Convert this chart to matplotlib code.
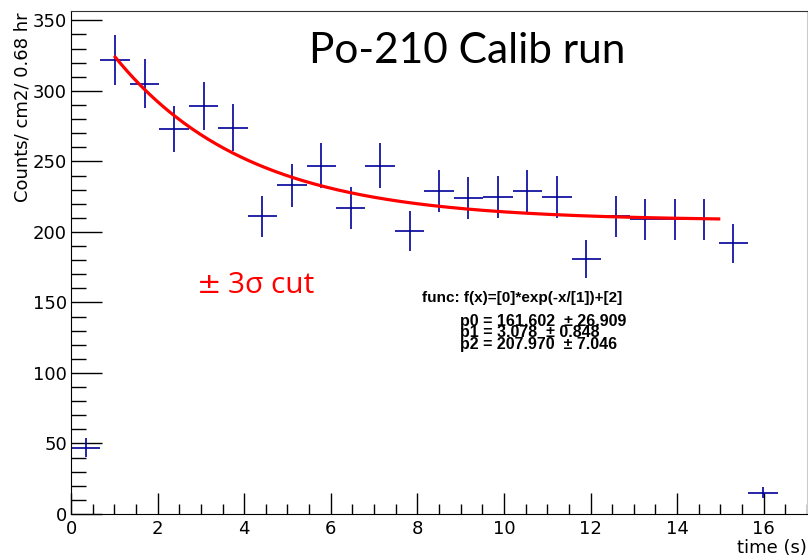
import numpy as np
import matplotlib
matplotlib.use('Agg')
import matplotlib.pyplot as plt
from matplotlib.ticker import MultipleLocator

# bin centres (0.68 hr bins) and counts
bin_centers = [0.34, 1.02, 1.70, 2.38, 3.06, 3.74, 4.42, 5.10, 5.78, 6.46,
               7.14, 7.82, 8.50, 9.18, 9.86, 10.54, 11.22, 11.90, 12.58,
               13.26, 13.94, 14.62, 15.30, 15.98]
counts = [47, 322, 305, 273, 289, 274, 211, 233, 247, 217,
          247, 201, 229, 224, 225, 229, 225, 181, 211,
          209, 209, 209, 192, 15]
bin_half = 0.34

# fit result
p0, p1, p2 = 161.602, 3.078, 207.970
fit_lo, fit_hi = 1.02, 14.96
fit_text = ["p0 = 161.602  \u00b1 26.909",
            "p1 = 3.078  \u00b1 0.848",
            "p2 = 207.970  \u00b1 7.046"]

fig = plt.figure(figsize=(8.08, 5.59), dpi=100)
ax = fig.add_axes([0.0879, 0.0805, 0.9109, 0.9007])

y = np.array(counts, dtype=float)
ax.errorbar(bin_centers, y, xerr=bin_half, yerr=np.sqrt(y), fmt='none',
            ecolor='#000099', elinewidth=1.2, capsize=0)

xf = np.linspace(fit_lo, fit_hi, 300)
ax.plot(xf, p0 * np.exp(-xf / p1) + p2, color='red', lw=2.3)

ax.set_xlim(0, 17)
ax.set_ylim(0, 357)
ax.xaxis.set_major_locator(MultipleLocator(2))
ax.xaxis.set_minor_locator(MultipleLocator(0.5))
ax.yaxis.set_major_locator(MultipleLocator(50))
ax.yaxis.set_minor_locator(MultipleLocator(10))
ax.tick_params(axis='both', which='both', direction='in', top=False, right=False,
               labelsize=13, width=1)
ax.tick_params(axis='x', which='major', length=15, pad=4)
ax.tick_params(axis='x', which='minor', length=7)
ax.tick_params(axis='y', which='major', length=22, pad=3)
ax.tick_params(axis='y', which='minor', length=11)
for lab in ax.get_xticklabels() + ax.get_yticklabels():
    lab.set_family('DejaVu Sans')
ax.spines['top'].set_color('#333333')
ax.spines['right'].set_color('#cccccc')

fig.text(0.028, 0.977, "Counts/ cm2/ 0.68 hr", rotation=90, ha='center', va='top',
         fontsize=13, family='DejaVu Sans')
fig.text(0.999, 0.003, "time (s)", ha='right', va='bottom',
         fontsize=13, family='DejaVu Sans')

ax.text(0.5387, 0.8957, "Po-210 Calib run", transform=ax.transAxes, ha='center',
        va='baseline', fontsize=30.5, family='Lato')
ax.text(0.1712, 0.439, "\u00b1", transform=ax.transAxes, ha='left',
        va='baseline', fontsize=21, color='red', family='DejaVu Sans')
ax.text(0.2133, 0.439, "3\u03c3 cut", transform=ax.transAxes, ha='left',
        va='baseline', fontsize=21.5, color='red', family='Open Sans')
ax.text(0.477, 0.421, "func: f(x)=[0]*exp(-x/[1])+[2]", transform=ax.transAxes,
        ha='left', va='baseline', fontsize=11, fontweight='bold',
        family='Liberation Sans')
ax.text(0.5285, 0.398, "\n".join(fit_text), transform=ax.transAxes,
        ha='left', va='top', fontsize=11.5, fontweight='bold',
        family='Liberation Sans', linespacing=0.74)

fig.savefig('out.png', dpi=100)
